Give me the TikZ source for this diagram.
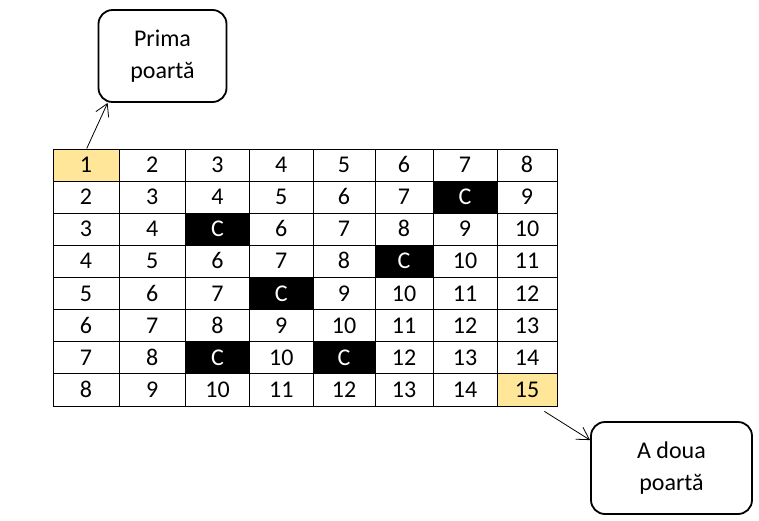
\documentclass[tikz,border=0pt]{standalone}
\usepackage{fontspec}
\setmainfont{Carlito}
\usetikzlibrary{arrows.meta}
\definecolor{gold}{HTML}{FFE699}
\tikzset{
  cellbox/.style={draw=black, line width=0.9pt, minimum width=#1, minimum height=32.1pt, inner sep=0pt, text height=15pt, text depth=0pt, font=\fontsize{24}{26}\selectfont, anchor=center},
  yel/.style={fill=gold},
  blk/.style={fill=black, text=white},
  callout/.style={draw=black, line width=1.8pt, rounded corners=14pt, inner sep=0pt, align=center, font=\fontsize{24}{31.5}\selectfont},
  conn/.style={line width=0.8pt, -{Straight Barb[length=12pt,width=14pt,line width=0.8pt]}}
}
\begin{document}
\begin{tikzpicture}[x=1pt,y=-1pt]
\useasboundingbox (0,0) rectangle (759,520);
\def\xs{{53,119,185.5,249.5,313,375,433,497,557}}
\def\ys{{149,181.1,213.2,245.3,277.4,309.6,341.7,373.8,406}}
\foreach \r/\vals in {1/{1,2,3,4,5,6,7,8},2/{2,3,4,5,6,7,C,9},3/{3,4,C,6,7,8,9,10},4/{4,5,6,7,8,C,10,11},5/{5,6,7,C,9,10,11,12},6/{6,7,8,9,10,11,12,13},7/{7,8,C,10,C,12,13,14},8/{8,9,10,11,12,13,14,15}}{
  \foreach \v [count=\c] in \vals {
    \pgfmathsetmacro{\xa}{\xs[\c-1]}
    \pgfmathsetmacro{\xb}{\xs[\c]}
    \pgfmathsetmacro{\ya}{\ys[\r-1]}
    \pgfmathsetmacro{\yb}{\ys[\r]}
    \pgfmathsetmacro{\w}{\xb-\xa}
    \def\sty{}
    \ifnum\r=1 \ifnum\c=1 \def\sty{yel}\fi\fi
    \ifnum\r=8 \ifnum\c=8 \def\sty{yel}\fi\fi
    \if C\v \def\sty{blk}\fi
    \node[cellbox=\w pt, \sty] (c-\r-\c) at ({(\xa+\xb)/2},{(\ya+\yb)/2}) {\v};
  }
}
\node[callout, minimum width=128pt, minimum height=92pt] (b1) at (162.5,56) {Prima\\poartă};
\node[callout, minimum width=161pt, minimum height=92pt] (b2) at (671.5,468) {A doua\\poartă};
\draw[conn] ([xshift=0.7pt]c-1-1.north) -- ([xshift=10pt]b1.south west);
\draw[conn] ([xshift=-13pt,yshift=-5pt]c-8-8.south east) -- ([yshift=-19pt]b2.north west);
\end{tikzpicture}
\end{document}
